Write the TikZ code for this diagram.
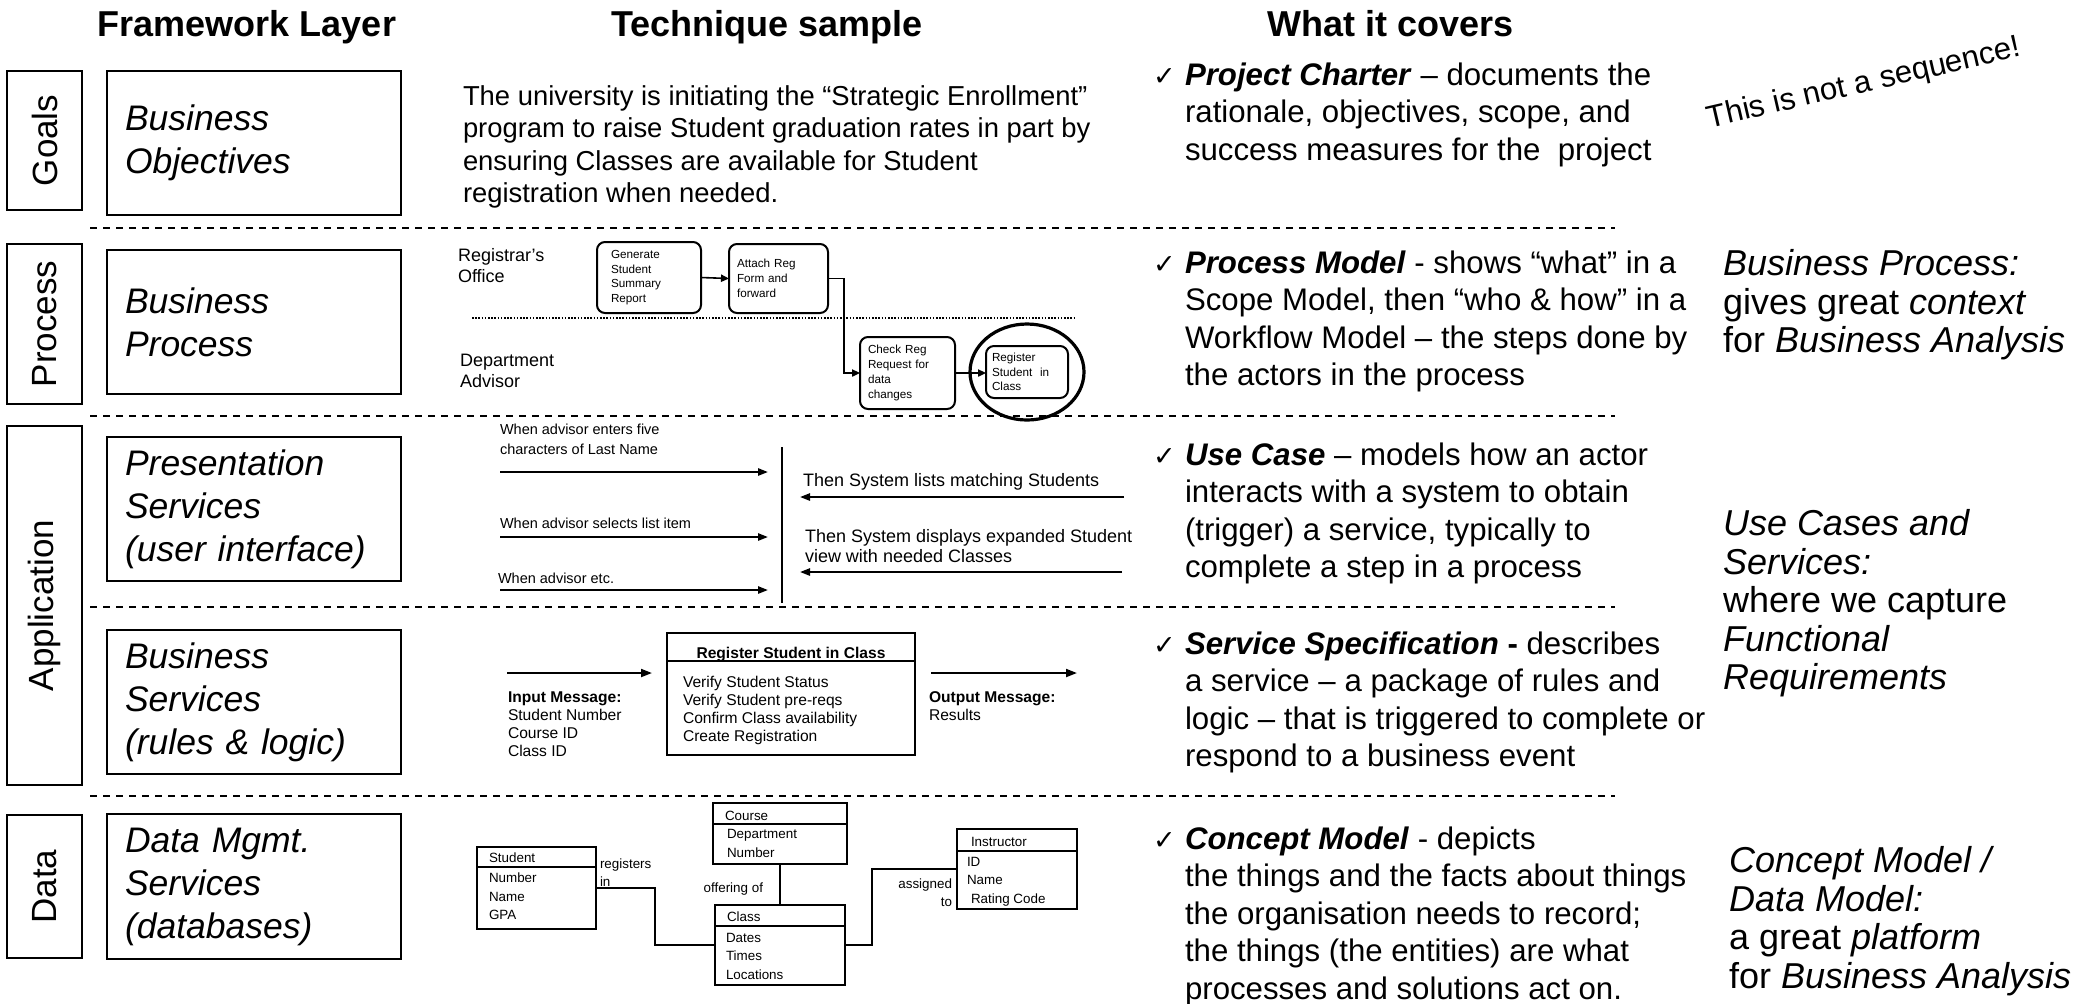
\documentclass[tikz,border=0pt]{standalone}
\usepackage{fontspec}
\setmainfont{Liberation Sans}
\newfontfamily\chkfont{DejaVu Sans}
\usetikzlibrary{arrows.meta}
\newcommand\fhdr{\fontsize{18pt}{21pt}\selectfont\bfseries}
\newcommand\fside{\fontsize{17.5pt}{21pt}\selectfont}
\newcommand\flayer{\fontsize{17.75pt}{21.5pt}\selectfont\itshape}
\newcommand\fgoal{\fontsize{13.7pt}{16.25pt}\selectfont}
\newcommand\fcov{\fontsize{15.6pt}{18.75pt}\selectfont}
\newcommand\fnote{\fontsize{18pt}{19.25pt}\selectfont}
\newcommand\fswim{\fontsize{9pt}{10.5pt}\selectfont}
\newcommand\fproc{\fontsize{5.85pt}{7.35pt}\selectfont}
\newcommand\fucl{\fontsize{7.25pt}{10pt}\selectfont}
\newcommand\fucr{\fontsize{9pt}{10pt}\selectfont}
\newcommand\fsvc{\fontsize{7.8pt}{9.15pt}\selectfont}
\newcommand\fer{\fontsize{6.7pt}{9.25pt}\selectfont}
\begin{document}
\begin{tikzpicture}[x=0.5pt,y=-0.5pt,
  every node/.style={inner sep=0pt, outer sep=0pt},
  sidebox/.style={draw, line width=1pt, rotate=90, minimum height=37.5pt, font=\fside},
  layerbox/.style={draw, line width=1pt, align=left, text width=129pt, inner xsep=9pt, inner ysep=0pt, minimum height=72pt, font=\flayer},
  sep/.style={line width=1pt, dash pattern=on 3.5pt off 3pt},
  para/.style={anchor=north west, align=left},
  chk/.style={anchor=base west, font=\chkfont\fontsize{13.5pt}{13.5pt}\selectfont},
  procbox/.style={draw, line width=1pt, rounded corners=4pt, align=left, inner ysep=0pt, font=\fproc},
  parr/.style={line width=0.8pt, -{Triangle[length=4pt,width=3.6pt]}},
  uarr/.style={line width=1pt, -{Triangle[length=5pt,width=3.6pt]}},
  sarr/.style={line width=1pt, -{Triangle[length=5.5pt,width=4pt]}},
  erbox/.style={draw, line width=0.9pt},
  erl/.style={line width=0.9pt}
]
\fill[white] (0,0) rectangle (2087,1003);
\useasboundingbox (0,0) rectangle (2087,1003);

% headers
\node[anchor=base, font=\fhdr] (hFW) at (247,36) {Framework Layer};
\node[anchor=base, font=\fhdr] (hTS) at (767,36) {Technique sample};
\node[anchor=base, font=\fhdr] (hWC) at (1391,36) {What it covers};

% side labels
\node[sidebox, minimum width=69.5pt] (sGoals) at (44.5,140.5) {Goals};
\node[sidebox, minimum width=80pt] (sProc) at (44.5,324) {Process};
\node[sidebox, minimum width=179.5pt] (sApp) at (44.5,605.5) {Application};
\node[sidebox, minimum width=71.5pt] (sData) at (44.5,886.5) {Data};

% layer boxes
\node[layerbox] (lGoals) at (254,143) {Business\\Objectives};
\node[layerbox] (lProc) at (254,322) {Business\\Process};
\node[layerbox] (lPres) at (254,509) {Presentation\\Services\\(user interface)};
\node[layerbox] (lBus) at (254,702) {Business\\Services\\(rules \& logic)};
\node[layerbox, minimum height=72.5pt] (lData) at (254,886.5) {Data Mgmt.\\Services\\(databases)};

% separators
\foreach \yy in {228,416,607,796} \draw[sep] (90,\yy) -- (1615,\yy);

% goals technique text
\node[para, font=\fgoal] (goalTxt) at (463,82.25) {\strut The university is initiating the “Strategic Enrollment”\\program to raise Student graduation rates in part by\\ensuring Classes are available for Student\\registration when needed.};

% what it covers
\node[chk] (c1) at (1153,85) {✓};
\node[para, font=\fcov] (cov1) at (1185,58.75) {\strut\textbf{\textit{Project Charter}} – documents the\\rationale, objectives, scope, and\\success measures for the \ project};
\node[chk] (c2) at (1153,273) {✓};
\node[para, font=\fcov] (cov2) at (1185,246.75) {\strut\textbf{\textit{Process Model}} - shows “what” in a\\Scope Model, then “who \& how” in a\\Workflow Model – the steps done by\\the actors in the process};
\node[chk] (c3) at (1153,465) {✓};
\node[para, font=\fcov] (cov3) at (1185,438.75) {\strut\textbf{\textit{Use Case}} – models how an actor\\interacts with a system to obtain\\(trigger) a service, typically to\\complete a step in a process};
\node[chk] (c4) at (1153,654) {✓};
\node[para, font=\fcov] (cov4) at (1185,627.75) {\strut\textbf{\textit{Service Specification}} \textbf{-} describes\\a service – a package of rules and\\logic – that is triggered to complete or\\respond to a business event};
\node[chk] (c5) at (1153,849) {✓};
\node[para, font=\fcov] (cov5) at (1185,822.75) {\strut\textbf{\textit{Concept Model}} - depicts\\the things and the facts about things\\the organisation needs to record;\\the things (the entities) are what\\processes and solutions act on.};

% notes
\node[anchor=base, rotate=13, font=\fcov] (seq) at (1866,92) {This is not a sequence!};
\node[para, font=\fnote] (n1) at (1723,249) {\strut\textit{Business Process:}\\gives great \textit{context}\\for \textit{Business Analysis}};
\node[para, font=\fnote] (n2) at (1723,509) {\strut\textit{Use Cases and}\\\textit{Services:}\\where we capture\\\textit{Functional}\\\textit{Requirements}};
\node[para, font=\fnote] (n3) at (1729,846) {\strut\textit{Concept Model /}\\\textit{Data Model:}\\a great \textit{platform}\\for \textit{Business Analysis}};

% process sample
\node[para, font=\fswim] (swim1) at (458,246.3) {\strut Registrar's\\Office};
\node[para, font=\fswim] (swim2) at (460,351.3) {\strut Department\\Advisor};
\draw[line width=0.8pt, dash pattern=on 0.8pt off 0.8pt] (472,318) -- (1074,318);
\node[procbox, text width=38pt, inner xsep=7pt, minimum height=35.5pt] (gen) at (649,277.5) {Generate\\Student\\Summary\\Report};
\node[procbox, text width=41.5pt, inner xsep=4pt, minimum height=34.5pt] (att) at (778.5,278.5) {Attach Reg\\Form and\\forward};
\node[procbox, text width=39.5pt, inner xsep=4pt, minimum height=36pt] (chkr) at (907.5,373) {Check Reg\\Request for\\data\\changes};
\node[procbox, text width=35pt, inner xsep=3pt, minimum height=26pt] (reg) at (1027,372) {Register\\Student \ in\\Class};
\draw[line width=1.6pt] (reg.center) ellipse [x radius=28.5pt, y radius=24pt];
\draw[parr] (gen.east) -- (att.west);
\draw[parr] (att.east) -- ++(16,0) |- (chkr.west);
\draw[parr] (chkr.east) -- (chkr.east -| reg.west);

% use case sample
\node[para, font=\fucl] (ul1) at (500,420) {\strut When advisor enters five\\characters of Last Name};
\node[para, font=\fucl] (ul2) at (500,514) {\strut When advisor selects list item};
\node[para, font=\fucl] (ul3) at (498,569) {\strut When advisor etc.};
\node[para, font=\fucr] (ur1) at (803,472) {\strut Then System lists matching Students};
\node[para, font=\fucr] (ur2) at (805,528) {\strut Then System displays expanded Student\\view with needed Classes};
\coordinate (vtop) at (782,447);
\coordinate (vbot) at (782,603);
\draw[line width=1pt] (vtop) -- (vbot);
\coordinate (a1s) at (500,472); \coordinate (a1e) at (768,472);
\coordinate (a2s) at (500,537); \coordinate (a2e) at (768,537);
\coordinate (a3s) at (500,590); \coordinate (a3e) at (768,590);
\coordinate (b1s) at (1124,497); \coordinate (b1e) at (800,497);
\coordinate (b2s) at (1122,572); \coordinate (b2e) at (800,572);
\draw[uarr] (a1s) -- (a1e);
\draw[uarr] (a2s) -- (a2e);
\draw[uarr] (a3s) -- (a3e);
\draw[uarr] (b1s) -- (b1e);
\draw[uarr] (b2s) -- (b2e);

% service spec sample
\node[draw, line width=1pt, minimum width=124pt, minimum height=61pt] (svc) at (791,694) {};
\draw[line width=1pt] (svc.north west) ++(0,28) -- ++(248,0);
\node[anchor=base, font=\fsvc\bfseries] (svcT) at (791,658) {Register Student in Class};
\node[para, font=\fsvc] (svcB) at (683,674.2) {\strut Verify Student Status\\Verify Student pre-reqs\\Confirm Class availability\\Create Registration};
\node[para, font=\fsvc] (inT) at (508,689.2) {\strut\textbf{Input Message:}\\Student Number\\Course ID\\Class ID};
\node[para, font=\fsvc] (outT) at (929,689.2) {\strut\textbf{Output Message:}\\Results};
\coordinate (ins) at (507,673); \coordinate (ine) at (652,673);
\coordinate (outs) at (931,673); \coordinate (oute) at (1077,673);
\draw[sarr] (ins) -- (ine);
\draw[sarr] (outs) -- (oute);

% ER sample
\node[erbox, minimum width=59.5pt, minimum height=41pt] (stu) at (536.5,888) {};
\draw[erl] (stu.north west) ++(0,20) -- ++(119,0);
\node[anchor=base west, font=\fer] (stuT) at (489,862) {Student};
\node[para, font=\fer] (stuB) at (489,870) {\strut Number\\Name\\GPA};
\node[para, font=\fer, align=left] (regT) at (600,857.5) {\fontsize{6.7pt}{7.5pt}\selectfont\strut registers\\in};

\node[erbox, minimum width=67pt, minimum height=30.5pt] (crs) at (780,833.5) {};
\draw[erl] (crs.north west) ++(0,21) -- ++(134,0);
\node[anchor=base west, font=\fer] (crsT) at (725,820) {Course};
\node[para, font=\fer] (crsB) at (727,824.5) {\fontsize{6.7pt}{10pt}\selectfont\strut Department\\Number};

\node[erbox, minimum width=65pt, minimum height=40pt] (cls) at (780,945) {};
\draw[erl] (cls.north west) ++(0,21) -- ++(130,0);
\node[anchor=base west, font=\fer] (clsT) at (727,921) {Class};
\node[para, font=\fer] (clsB) at (726,928.7) {\fontsize{6.7pt}{9.5pt}\selectfont\strut Dates\\Times\\Locations};

\node[erbox, minimum width=60pt, minimum height=40pt] (insb) at (1017,869) {};
\draw[erl] (insb.north west) ++(0,22) -- ++(120,0);
\node[anchor=base west, font=\fer] (insT) at (971,846) {Instructor};
\node[para, font=\fer] (insB) at (967,853.4) {\fontsize{6.7pt}{9pt}\selectfont\strut ID\\Name\\\hspace{2pt}Rating Code};

\node[anchor=base east, font=\fer] (offT) at (763,892) {offering of};
\node[anchor=north east, align=right, font=\fer] (asgT) at (952,876.1) {\fontsize{6.7pt}{8.5pt}\selectfont\strut assigned\\to};

\draw[erl] (stu.east) -- ++(59,0) |- (cls.west);
\draw[erl] (crs.south) -- (cls.north);
\draw[erl] (cls.east) -- ++(27,0) |- (insb.west);
\end{tikzpicture}
\end{document}
